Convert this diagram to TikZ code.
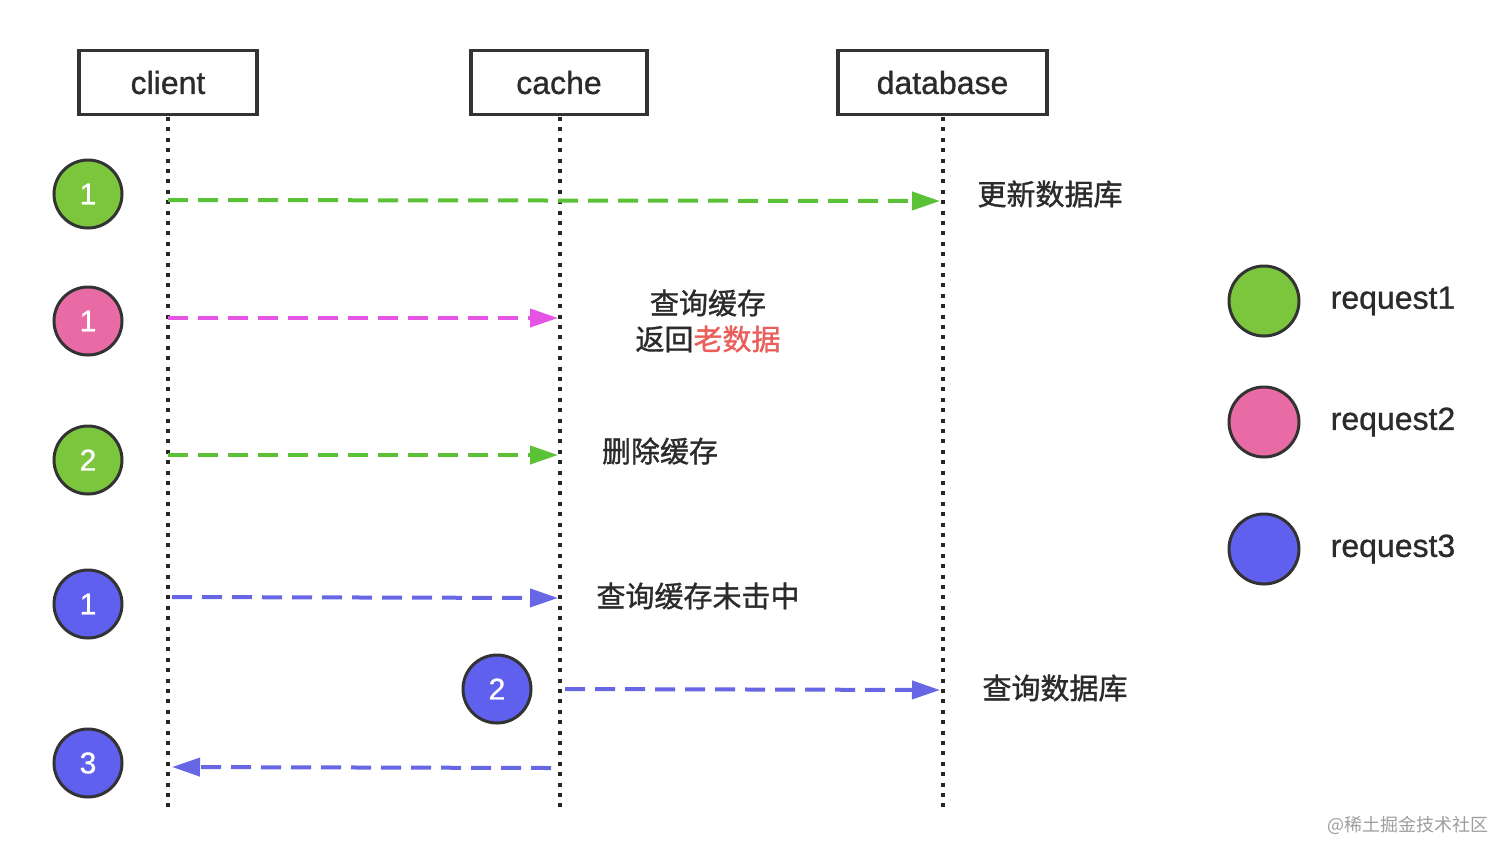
\documentclass[tikz,border=0pt]{standalone}
\usepackage{fontspec}
\setmainfont{Liberation Sans}[FakeBold=0.9,BoldFont=Liberation Sans,BoldFeatures={FakeBold=0.9}]
\newfontfamily\cjk{Noto Sans CJK SC}[FakeBold=1.2]
\newfontfamily\cjklight{Noto Sans CJK SC}
\usetikzlibrary{arrows.meta}
\definecolor{edgegray}{HTML}{333333}
\definecolor{cgreen}{HTML}{7CC63E}
\definecolor{cpink}{HTML}{E96BA6}
\definecolor{cblue}{HTML}{6060EE}
\definecolor{agreen}{HTML}{5BC238}
\definecolor{apink}{HTML}{E455E6}
\definecolor{ablue}{HTML}{6767E6}
\definecolor{oldred}{HTML}{EA5F5C}
\definecolor{txt}{HTML}{2B2B2B}
\tikzset{
  actor/.style={draw=edgegray, line width=1.6pt, minimum width=88pt, minimum height=32pt, inner sep=0pt, font=\fontsize{16}{19}\selectfont, text=txt},
  life/.style={line width=2pt, dash pattern=on 2pt off 3.2pt, black!85},
  badge/.style={circle, draw=edgegray, line width=1.5pt, minimum size=34pt, inner sep=0pt, text=white, font=\fontsize{15}{17}\selectfont},
  msg/.style={line width=2pt, dash pattern=on 10pt off 5pt, -{Triangle[length=14pt,width=9pt]}},
  lab/.style={font=\cjk\fontsize{14.5}{17}\selectfont, text=txt, inner sep=0pt},
  leg/.style={font=\fontsize{16}{19}\selectfont, text=txt, inner sep=0pt},
}
\begin{document}
\begin{tikzpicture}[x=0.5pt,y=-0.5pt]
\useasboundingbox (0,0) rectangle (1512,859);
\fill[white] (0,0) rectangle (1512,859);
% actors
\node[actor, minimum width=89pt] (client) at (168,82.5) {client};
\node[actor] (cache) at (559,82.5) {cache};
\node[actor, minimum width=104.5pt] (db) at (942.5,82.5) {database};
% lifelines
\coordinate (cl0) at (168,117); \coordinate (cl1) at (168,810);
\coordinate (ca0) at (560,117); \coordinate (ca1) at (560,810);
\coordinate (db0) at (943,117); \coordinate (db1) at (943,810);
\draw[life] (cl0) -- (cl1);
\draw[life] (ca0) -- (ca1);
\draw[life] (db0) -- (db1);
% badges
\node[badge, fill=cgreen] (g1) at (88,194) {1};
\node[badge, fill=cpink] (p1) at (88,321) {1};
\node[badge, fill=cgreen] (g2) at (88,460) {2};
\node[badge, fill=cblue] (b1) at (88,604) {1};
\node[badge, fill=cblue] (b2) at (497,689) {2};
\node[badge, fill=cblue] (b3) at (88,763) {3};
% message endpoints
\coordinate (m1s) at (168,200); \coordinate (m1e) at (940,201);
\coordinate (m2s) at (168,318); \coordinate (m2e) at (558,318);
\coordinate (m3s) at (168,455); \coordinate (m3e) at (558,455);
\coordinate (m4s) at (172,597); \coordinate (m4e) at (558,598);
\coordinate (m5s) at (565,689); \coordinate (m5e) at (940,690);
\coordinate (m6s) at (551,768); \coordinate (m6e) at (172,767);
\draw[msg, agreen] (m1s) -- (m1e);
\draw[msg, apink] (m2s) -- (m2e);
\draw[msg, agreen] (m3s) -- (m3e);
\draw[msg, ablue] (m4s) -- (m4e);
\draw[msg, ablue] (m5s) -- (m5e);
\draw[msg, ablue] (m6s) -- (m6e);
% labels
\node[lab] (l1) at (1050,194) {更新数据库};
\node[lab] (l2a) at (708,303) {查询缓存};
\node[lab] (l2b) at (708,339) {返回\textcolor{oldred}{老数据}};
\node[lab] (l3) at (660,451) {删除缓存};
\node[lab] (l4) at (698,596) {查询缓存未击中};
\node[lab] (l5) at (1055,688) {查询数据库};
% legend
\node[badge, fill=cgreen, minimum size=35pt] (r1) at (1264,301) {};
\node[badge, fill=cpink, minimum size=35pt] (r2) at (1264,422) {};
\node[badge, fill=cblue, minimum size=35pt] (r3) at (1264,549) {};
\node[leg] (t1) at (1393,301) {request1};
\node[leg] (t2) at (1393,422) {request2};
\node[leg] (t3) at (1393,549) {request3};
% watermark
\node[font=\cjklight\fontsize{9}{11}\selectfont, text=black!38, inner sep=0pt] (wm) at (1408,825) {@稀土掘金技术社区};
\end{tikzpicture}
\end{document}
